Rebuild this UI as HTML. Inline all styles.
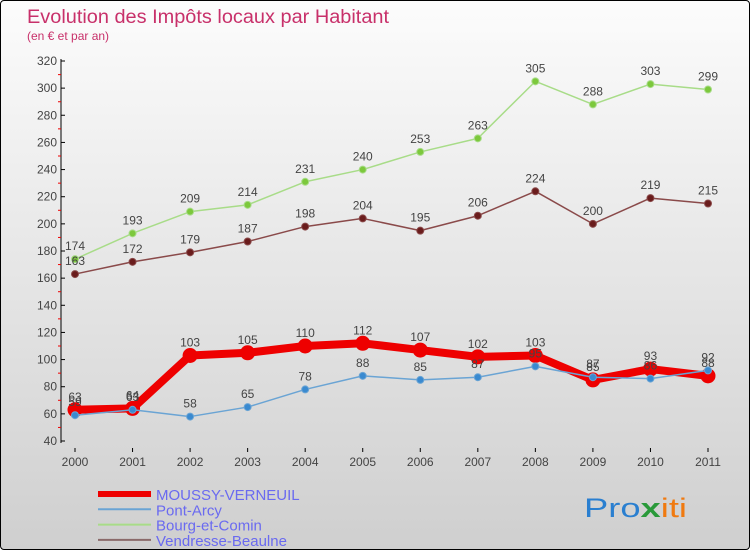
<!DOCTYPE html>
<html><head><meta charset="utf-8"><style>
body{margin:0}
#w{width:748px;height:548px;border:1px solid #000;border-radius:4px;overflow:hidden;position:relative;background:linear-gradient(#fcfcfc,#cfcfcf);font-family:"Liberation Sans",sans-serif}
</style></head><body>
<div id="w">
<svg id="s" width="748" height="548" xmlns="http://www.w3.org/2000/svg">
<text x="26" y="22" font-size="19" fill="#c8306a" textLength="362" lengthAdjust="spacingAndGlyphs">Evolution des Impôts locaux par Habitant</text>
<text x="26" y="39" font-size="12" fill="#c8306a">(en € et par an)</text>
<g id="ax"></g><g id="pl"></g><g id="lg"></g>
<text x="583" y="516" font-size="27" textLength="103" lengthAdjust="spacingAndGlyphs"><tspan fill="#2a7fd0">Pro</tspan><tspan fill="#2a9a3a" font-weight="bold">x</tspan><tspan fill="#f07a10">iti</tspan></text>
</svg></div>
<script>
const years=[2000,2001,2002,2003,2004,2005,2006,2007,2008,2009,2010,2011];
const moussy=[63,64,103,105,110,112,107,102,103,85,93,88];
const pont=[59,63,58,65,78,88,85,87,95,87,86,92];
const bourg=[174,193,209,214,231,240,253,263,305,288,303,299];
const vend=[163,172,179,187,198,204,195,206,224,200,219,215];
const yTicks=[40,60,80,100,120,140,160,180,200,220,240,260,280,300,320];
const NS="http://www.w3.org/2000/svg";
const X=i=>74+i*(707-74)/11;
const Y=v=>440-(v-40)*380/280;
function el(t,a,p){const e=document.createElementNS(NS,t);for(const k in a)e.setAttribute(k,a[k]);p.appendChild(e);return e;}
const ax=document.getElementById('ax'),pl=document.getElementById('pl'),lg=document.getElementById('lg');
let l=el('line',{x1:60,y1:58,x2:60,y2:442,stroke:'#000'},ax);


yTicks.forEach((v,i)=>{
 let t=el('line',{x1:60,y1:Y(v),x2:64,y2:Y(v),stroke:'#000'},ax);
 
 
 if(i<yTicks.length-1){let m=el('line',{x1:57,y1:Y(v+10),x2:60,y2:Y(v+10),stroke:'#e00'},ax);
 
 }
 let tx=el('text',{x:56,y:Y(v)+4,'font-size':12,fill:'#444','text-anchor':'end'},ax);tx.textContent=v;
 
 
});
years.forEach((y,i)=>{
 let t=el('line',{x1:X(i),y1:447,x2:X(i),y2:451,stroke:'#000'},ax);
 
 
 let tx=el('text',{x:X(i),y:465,'font-size':12,fill:'#444','text-anchor':'middle'},ax);tx.textContent=y;
 
 
});
function series(d,col,w,r,name,dot){
 const g=el('g',{},pl);
 
 
 let p=el('polyline',{points:d.map((v,i)=>X(i)+','+Y(v)).join(' '),fill:'none',stroke:col,'stroke-width':w,'stroke-linejoin':'round'},g);
 
 
 d.forEach((v,i)=>{
  let c=el('circle',{cx:X(i),cy:Y(v),r:r,fill:dot,stroke:col,'stroke-width':1},g);
  
  
  let t=el('text',{x:X(i),y:Y(v)-9,'font-size':12,fill:'#444','text-anchor':'middle'},g);t.textContent=v;
  
  
 });
}
series(bourg,'#a8dc88',1.5,3.5,'bourg-et-comin','#7cc83c');
series(vend,'#8a4a4a',1.5,3.5,'vendresse-beaulne','#6a1c1c');
series(moussy,'#ee0000',8,7,'moussy-verneuil','#ee0000');
series(pont,'#6aa4d4',1.5,3.5,'pont-arcy','#3a8ad0');
[['MOUSSY-VERNEUIL','#ee0000',6],['Pont-Arcy','#6aa4d4',2],['Bourg-et-Comin','#a8dc88',2],['Vendresse-Beaulne','#8a6a6a',2]].forEach((e,i)=>{
 const y=493+i*15.3;
 let s=el('line',{x1:97,y1:y,x2:150,y2:y,stroke:e[1],'stroke-width':e[2]},lg);
 
 
 let t=el('text',{x:155,y:y+6,'font-size':15,fill:'#6a6af0'},lg);t.textContent=e[0];
 
 
});
</script>
</body></html>
